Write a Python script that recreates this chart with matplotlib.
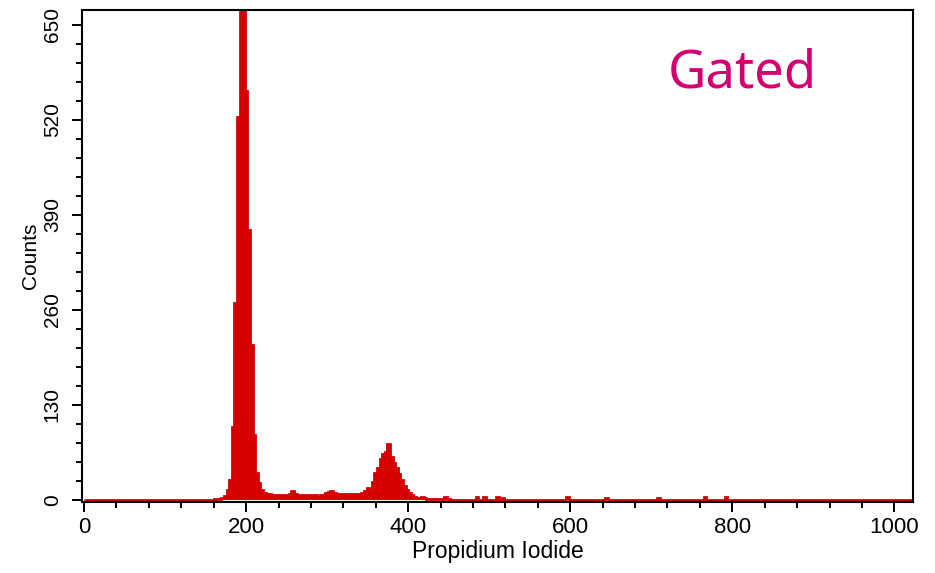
#!/usr/bin/env python3
# -*- coding: utf-8 -*-

import numpy as np
import matplotlib
matplotlib.use('Agg')
import matplotlib.pyplot as plt
from matplotlib.ticker import MultipleLocator


# histogram: 320 bins of 3.2 channels over 0..1024
n_bins = 320
bin_width = 3.2

# counts for bins 50..140 (channels 160..448)
first_bin = 50
region_counts = [
    1, 1, 1, 3, 5, 14, 27, 100, 269, 524,            # 50-59
    700, 700, 559, 369, 212, 89, 37, 23, 14, 10,     # 60-69
    8, 8, 7, 7, 7, 7, 7, 7, 7, 8,                    # 70-79
    12, 8, 7, 7, 7, 7, 7, 7, 7, 7,                   # 80-89
    4, 6, 7, 9, 11, 12, 9, 8, 8, 8,                  # 90-99
    8, 8, 8, 8, 8, 8, 8, 10, 12, 16,                 # 100-109
    13, 24, 36, 44, 56, 62, 66, 77, 58, 50,          # 110-119
    43, 35, 27, 19, 13, 9, 6, 4, 3, 2,               # 120-129
    4, 2, 1, 1, 1, 1, 1, 1, 1, 4,                    # 130-139
    1,                                               # 140
]

# small isolated events further right (channel, count)
spike_channels = [486, 494, 510, 518, 597, 646, 710, 765, 791]
spike_counts = [4, 4, 4, 3, 4, 3, 3, 4, 4]

counts = np.zeros(n_bins)
counts[first_bin:first_bin + len(region_counts)] = region_counts
for ch, c in zip(spike_channels, spike_counts):
    counts[int(ch // bin_width)] = c
edges = np.arange(n_bins + 1) * bin_width

red = '#d60000'

plt.rcParams['font.family'] = ['Liberation Sans', 'DejaVu Sans']

fig = plt.figure(figsize=(9.35, 5.73), dpi=100)
ax = fig.add_axes([0.0877, 0.1239, 0.8888, 0.8586])

ax.stairs(counts, edges, fill=True, color=red, linewidth=0)
ax.stairs(counts, edges, color=red, linewidth=2.0)

ax.set_xlim(-2.5, 1023)
ax.set_ylim(-3, 670)

ax.xaxis.set_major_locator(MultipleLocator(200))
ax.xaxis.set_minor_locator(MultipleLocator(40))
ax.yaxis.set_major_locator(MultipleLocator(130))
ax.yaxis.set_minor_locator(MultipleLocator(26))

ax.tick_params(axis='both', which='major', direction='out', length=7.5, width=1.4, color='black')
ax.tick_params(axis='both', which='minor', direction='out', length=4.5, width=1.4, color='black')
ax.tick_params(axis='x', which='major', labelsize=16, pad=3)
ax.tick_params(axis='y', which='major', labelsize=15, pad=7)
for lab in ax.get_yticklabels():
    lab.set_rotation(90)
    lab.set_va('center')

for sp in ax.spines.values():
    sp.set_linewidth(1.5)
    sp.set_color('black')

ax.set_xlabel('Propidium Iodide', fontsize=16.5, labelpad=2)
ax.set_ylabel('Counts', fontsize=15, labelpad=2)

ax.text(0.795, 0.869, 'Gated', transform=ax.transAxes, fontsize=38,
        color='#d4006f', ha='center', va='center', family=['Noto Sans', 'DejaVu Sans'])

fig.savefig('out.png', dpi=100)
